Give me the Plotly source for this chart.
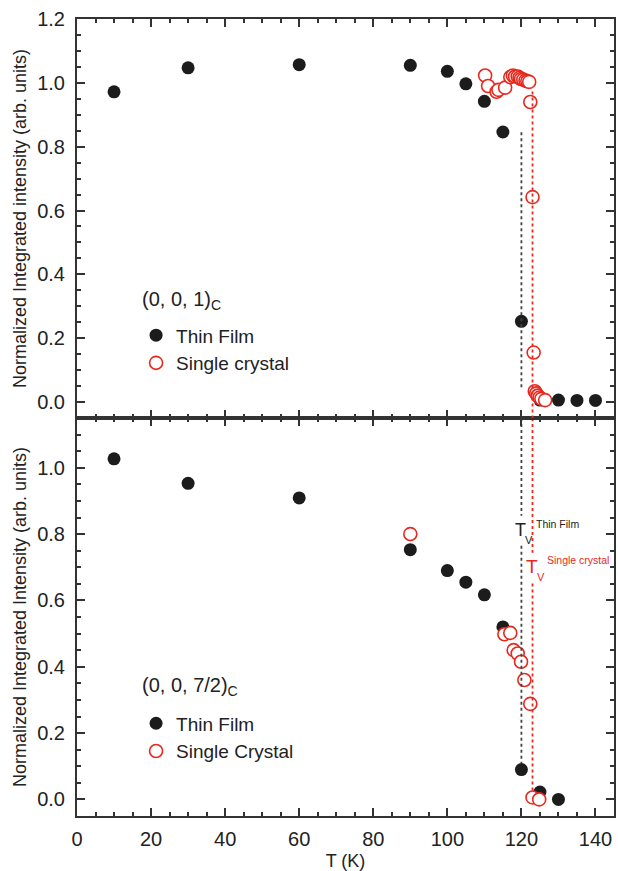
import plotly.graph_objects as go

# ---------------- data ----------------
# Top panel: (0, 0, 1)_C
film_T_top = [10, 30, 60, 90, 100, 105, 110, 115, 120, 125, 130, 135, 140]
film_I_top = [0.972, 1.047, 1.057, 1.055, 1.036, 0.997, 0.942, 0.846, 0.253, 0.006, 0.006, 0.005, 0.005]

xtal_T_top = [110.2, 111.0, 113.3, 113.8, 115.6, 117.0, 117.7, 118.3, 119.0, 119.5, 119.9, 120.5,
              121.1, 121.6, 122.1, 122.4, 123.0, 123.3, 123.6, 124.0, 124.4, 124.9, 125.4, 126.4]
xtal_I_top = [1.023, 0.99, 0.972, 0.978, 0.985, 1.018, 1.023, 1.02, 1.02, 1.016, 1.012, 1.01,
              1.007, 1.005, 1.003, 0.94, 0.642, 0.155, 0.034, 0.027, 0.02, 0.014, 0.01, 0.006]

# Bottom panel: (0, 0, 7/2)_C
film_T_bot = [10, 30, 60, 90, 100, 105, 110, 115, 120, 125, 130]
film_I_bot = [1.027, 0.953, 0.909, 0.753, 0.69, 0.655, 0.617, 0.52, 0.09, 0.022, 0.0]

xtal_T_bot = [90, 115.4, 117.0, 117.9, 119.0, 119.9, 120.8, 122.4, 123.0, 124.8]
xtal_I_bot = [0.80, 0.498, 0.502, 0.45, 0.44, 0.415, 0.36, 0.288, 0.006, 0.0]

# Verwey transition temperatures (dotted guide lines)
Tv_film = 120
Tv_xtal = 123
film_line_top = [0.845, 0.044]
xtal_line_top = [0.973, -0.05]
film_line_bot = [1.15, 0.855, None, 0.765, 0.11]
xtal_line_bot = [1.15, 0.744, None, 0.651, 0.02]

x_ticks = [0, 20, 40, 60, 80, 100, 120, 140]

# ---------------- styles ----------------
BLACK = "#1c1c1c"
RED = "#e8281e"
AX = "#333333"
FONT = "Arial"

fig = go.Figure()

def film(x, y, xa, ya, leg):
    return go.Scatter(x=x, y=y, xaxis=xa, yaxis=ya, mode="markers", name="Thin Film",
                      marker=dict(symbol="circle", size=13, color=BLACK, line=dict(width=0)),
                      legend=leg, cliponaxis=False)

def xtal(x, y, xa, ya, leg, name):
    return go.Scatter(x=x, y=y, xaxis=xa, yaxis=ya, mode="markers", name=name,
                      marker=dict(symbol="circle", size=13, color="white",
                                  line=dict(width=1.6, color=RED)),
                      legend=leg, cliponaxis=False)

def vline(xv, ys, xa, ya, color):
    return go.Scatter(x=[xv if v is not None else None for v in ys], y=ys, xaxis=xa, yaxis=ya,
                      mode="lines", line=dict(color=color, width=1.8, dash="dot"),
                      showlegend=False, hoverinfo="skip", connectgaps=False)

# top panel (x2, y2)
fig.add_trace(film(film_T_top, film_I_top, "x2", "y2", "legend"))
fig.add_trace(xtal(xtal_T_top, xtal_I_top, "x2", "y2", "legend", "Single crystal"))
fig.add_trace(vline(Tv_film, film_line_top, "x2", "y2", "#444444"))
fig.add_trace(vline(Tv_xtal, xtal_line_top, "x2", "y2", RED))

# bottom panel (x, y)
fig.add_trace(film(film_T_bot, film_I_bot, "x", "y", "legend2"))
fig.add_trace(xtal(xtal_T_bot, xtal_I_bot, "x", "y", "legend2", "Single Crystal"))
fig.add_trace(vline(Tv_film, film_line_bot, "x", "y", "#444444"))
fig.add_trace(vline(Tv_xtal, xtal_line_bot, "x", "y", RED))

split = 398 / 797

common_x = dict(range=[0, 145], tickvals=x_ticks, ticks="inside", ticklen=8, tickwidth=1.5,
                tickcolor=AX, showline=True, linecolor=AX, linewidth=2, mirror="ticks",
                showgrid=False, zeroline=False,
                minor=dict(dtick=5, tick0=0, ticks="inside", ticklen=4, tickwidth=1.5, tickcolor=AX),
                tickfont=dict(family=FONT, size=20, color="#222"))
common_y = dict(dtick=0.2, tick0=0, tickformat=".1f", ticks="inside", ticklen=8, tickwidth=1.5,
                tickcolor=AX, showline=True, linecolor=AX, linewidth=2, mirror="ticks",
                showgrid=False, zeroline=False,
                minor=dict(dtick=0.05, tick0=0, ticks="inside", ticklen=4, tickwidth=1.5, tickcolor=AX),
                tickfont=dict(family=FONT, size=20, color="#222"), ticklabelstandoff=6)

legend_common = dict(xanchor="left", yanchor="top", bgcolor="rgba(0,0,0,0)",
                     font=dict(family=FONT, size=19, color="#222"), tracegroupgap=0)

fig.update_layout(
    width=618, height=871,
    margin=dict(l=77, r=2, t=19, b=55),
    paper_bgcolor="white", plot_bgcolor="white",
    font=dict(family=FONT, color="#222"),
    xaxis=dict(common_x, domain=[0, 1], anchor="y",
               title=dict(text="T (K)", font=dict(family=FONT, size=18), standoff=6),
               ticklabelstandoff=4),
    yaxis=dict(common_y, domain=[0, split], anchor="x", range=[-0.05, 1.15],
               title=dict(text="Normalized Integrated Intensity (arb. units)",
                          font=dict(family=FONT, size=18), standoff=6)),
    xaxis2=dict(common_x, domain=[0, 1], anchor="y2", matches="x", showticklabels=False),
    yaxis2=dict(common_y, domain=[split, 1], anchor="x2", range=[-0.05, 1.2],
                title=dict(text="Normalized Integrated intensity (arb. units)",
                           font=dict(family=FONT, size=18), standoff=6)),
    legend=dict(legend_common, x=0.11, y=0.627),
    legend2=dict(legend_common, x=0.11, y=0.14),
    showlegend=True,
)

ann = [
    dict(text="T", x=119.7, y=0.813, font=dict(size=18, color="#222"), xanchor="center"),
    dict(text="V", x=122.0, y=0.783, font=dict(size=11, color="#222"), xanchor="center"),
    dict(text="Thin Film", x=123.3, y=0.831, font=dict(size=10.5, color="#222"), xanchor="left"),
    dict(text="T", x=122.8, y=0.702, font=dict(size=19, color=RED), xanchor="center"),
    dict(text="V", x=125.4, y=0.672, font=dict(size=11, color=RED), xanchor="center"),
    dict(text="Single crystal", x=126.5, y=0.7215, font=dict(size=10.5, color=RED), xanchor="left"),
]
for a in ann:
    a.update(xref="x", yref="y", showarrow=False, yanchor="middle")
    a["font"]["family"] = FONT

# panel labels (legend headings)
ann += [
    dict(text="(0, 0, 1)<sub>C</sub>", xref="paper", yref="paper", x=0.117, y=0.647,
         xanchor="left", yanchor="middle", showarrow=False,
         font=dict(family=FONT, size=20, color="#222")),
    dict(text="(0, 0, 7/2)<sub>C</sub>", xref="paper", yref="paper", x=0.117, y=0.162,
         xanchor="left", yanchor="middle", showarrow=False,
         font=dict(family=FONT, size=20, color="#222")),
]
fig.update_layout(annotations=ann)

fig.write_html("out.html")
